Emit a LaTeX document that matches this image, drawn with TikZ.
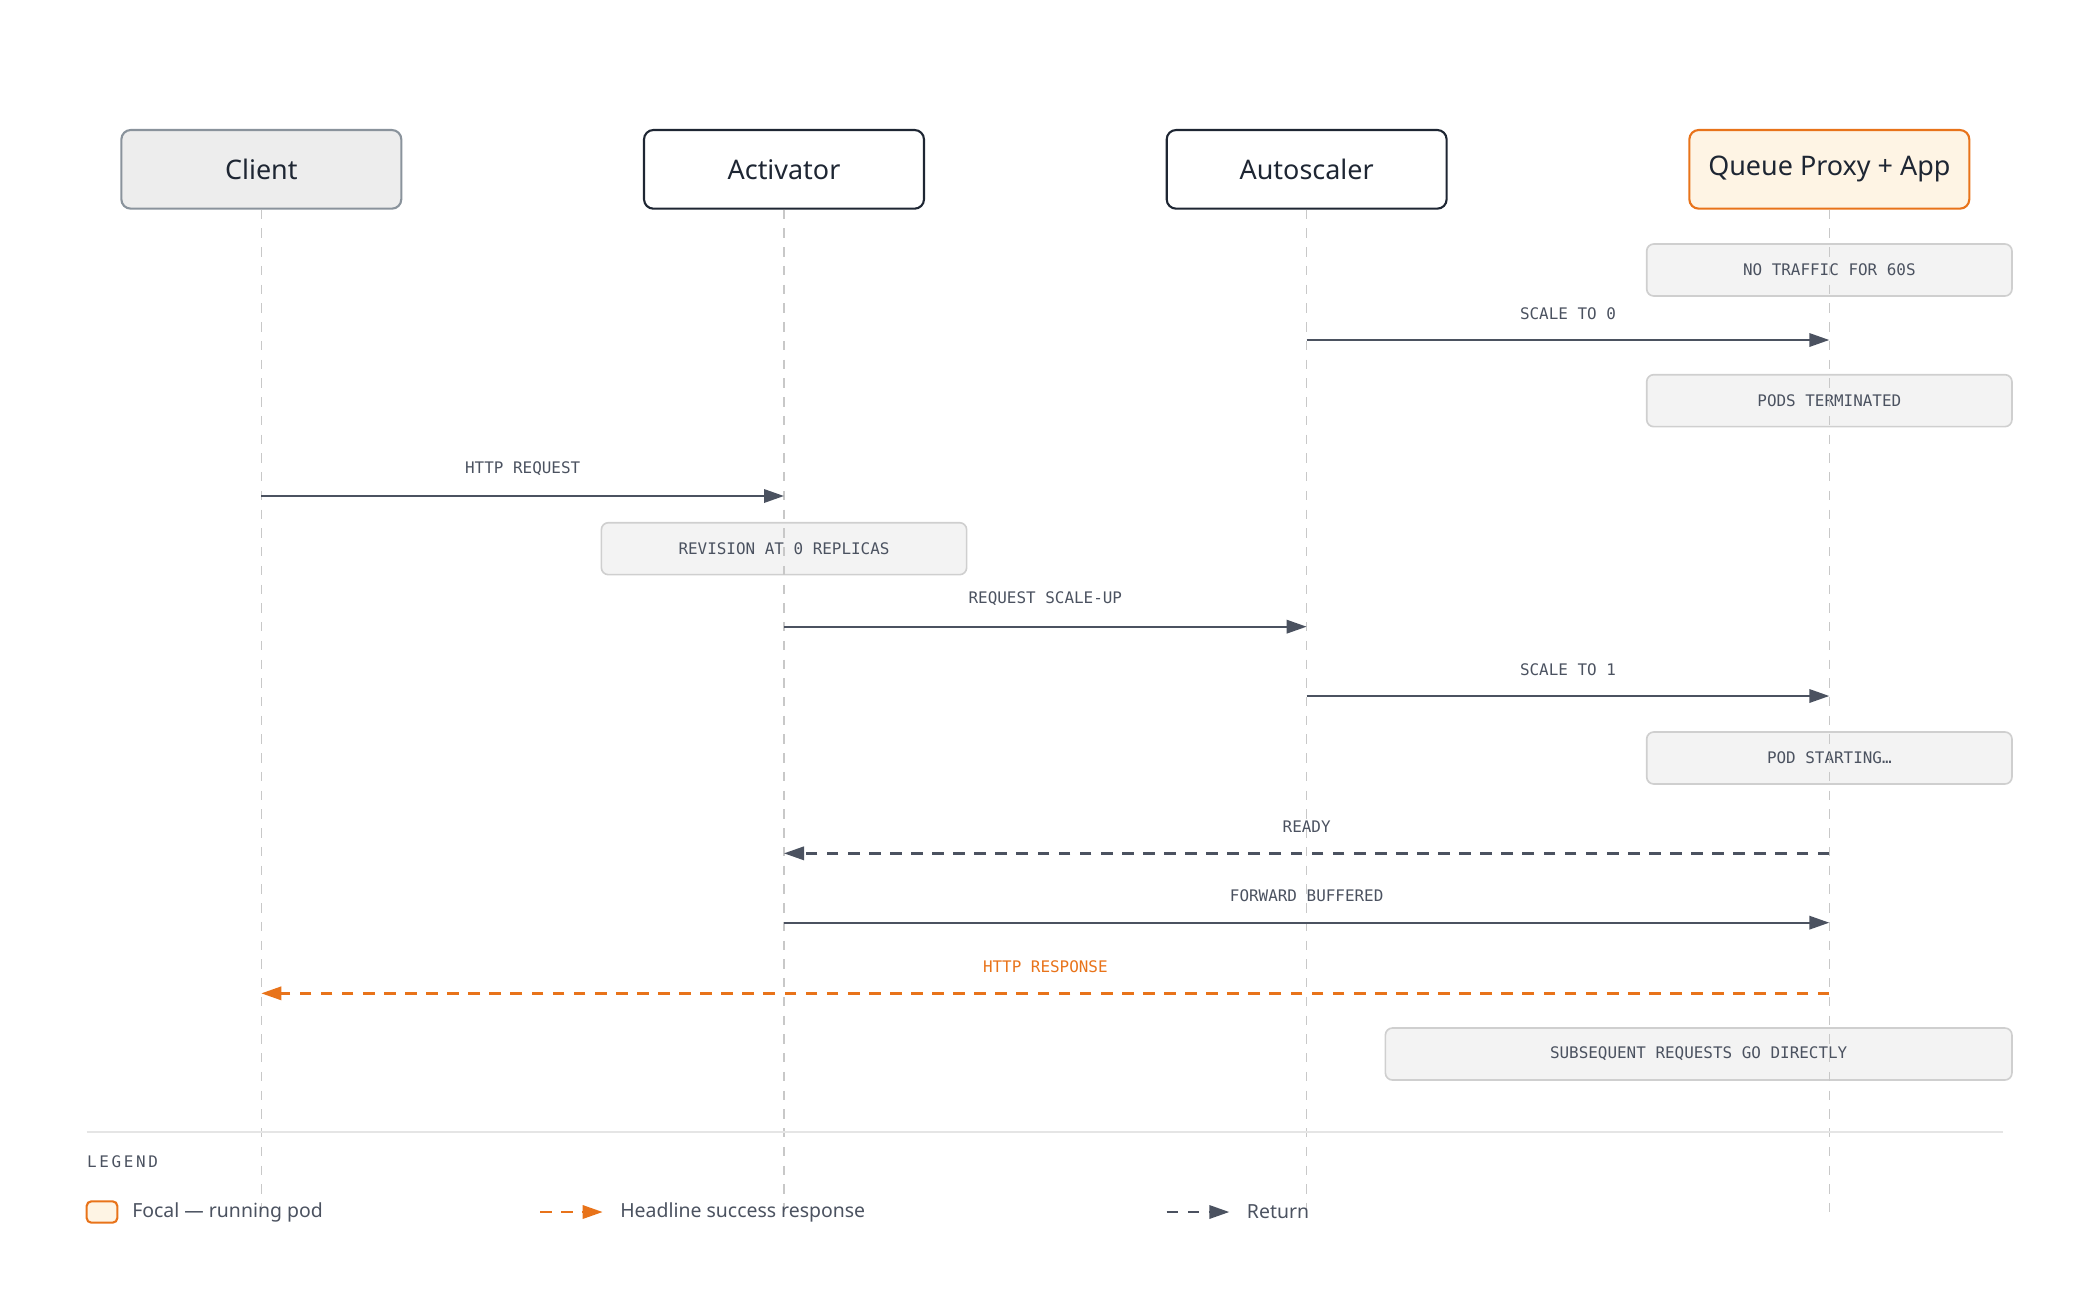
\documentclass[tikz,border=0pt]{standalone}
\usepackage{fontspec}
\setmainfont{Noto Sans}
\newfontfamily\monofont{DejaVu Sans Mono}
\usetikzlibrary{arrows.meta}
\definecolor{ink}{HTML}{1E2633}
\definecolor{arrowgray}{HTML}{4B5260}
\definecolor{focal}{HTML}{E8731A}
\definecolor{focalfill}{HTML}{FEF4E4}
\definecolor{clientfill}{HTML}{EDEDED}
\definecolor{clientdraw}{HTML}{8A939C}
\definecolor{notefill}{HTML}{F3F3F3}
\definecolor{notedraw}{HTML}{CFCFCF}
\definecolor{lifegray}{HTML}{C8C8C8}

\begin{document}
\begin{tikzpicture}[x=0.02cm, y=-0.02cm]
    % Styles
    \tikzstyle{actor} = [rectangle, rounded corners=4pt, draw=ink, line width=0.9pt, minimum width=4.2cm, minimum height=1.18cm, font=\fontsize{11.5}{13}\selectfont\bfseries, text=ink]
    \tikzstyle{note} = [rectangle, rounded corners=3pt, draw=notedraw, line width=0.7pt, fill=notefill, minimum height=0.78cm, font=\monofont\fontsize{6.8}{8}\selectfont, text=arrowgray]
    \tikzstyle{msg} = [-{Triangle[length=0.3cm,width=0.2cm]}, arrowgray, line width=1pt]
    \tikzstyle{ret} = [msg, dash pattern=on 5pt off 4pt]
    \tikzstyle{mlabel} = [midway, above=5pt, font=\monofont\fontsize{6.8}{8}\selectfont, text=arrowgray]
    \tikzstyle{lifeline} = [lifegray, line width=0.7pt, dash pattern=on 4pt off 4pt]
    \tikzstyle{legendtext} = [anchor=west, font=\fontsize{8.3}{10}\selectfont, text=arrowgray]

    \useasboundingbox (0,0) rectangle (1560,975);

    % Actors
    \node[actor, fill=clientfill, draw=clientdraw] (client) at (196,127) {Client};
    \node[actor] (activator) at (588,127) {Activator};
    \node[actor] (autoscaler) at (980,127) {Autoscaler};
    \node[actor, fill=focalfill, draw=focal] (qp) at (1372,127) {Queue Proxy + App};

    % Notes
    \node[note, minimum width=5.48cm] (n1) at (1372,202.5) {NO TRAFFIC FOR 60S};
    \node[note, minimum width=5.48cm] (n2) at (1372,300.5) {PODS TERMINATED};
    \node[note, minimum width=5.48cm] (n3) at (588,411.5) {REVISION AT 0 REPLICAS};
    \node[note, minimum width=5.48cm] (n4) at (1372,568.5) {POD STARTING…};
    \node[note, minimum width=9.4cm] (n5) at (1274,790.5) {SUBSEQUENT REQUESTS GO DIRECTLY};

    % Lifelines
    \foreach \a in {client, activator, autoscaler, qp}
        \draw[lifeline] (\a.south) -- (\a.south |- 0,915);

    % Messages
    \draw[msg] (autoscaler |- 0,255) -- node[mlabel] {SCALE TO 0} (qp |- 0,255);
    \draw[msg] (client |- 0,372) -- node[mlabel] {HTTP REQUEST} (activator |- 0,372);
    \draw[msg] (activator |- 0,470) -- node[mlabel] {REQUEST SCALE-UP} (autoscaler |- 0,470);
    \draw[msg] (autoscaler |- 0,522) -- node[mlabel] {SCALE TO 1} (qp |- 0,522);
    \draw[ret] (qp |- 0,640) -- node[mlabel] {READY} (activator |- 0,640);
    \draw[msg] (activator |- 0,692) -- node[mlabel] {FORWARD BUFFERED} (qp |- 0,692);
    \draw[ret, focal] (qp |- 0,745) -- node[mlabel, text=focal] {HTTP RESPONSE} (client |- 0,745);

    % Legend
    \draw[black!10, line width=0.7pt] (65,849) -- (1502,849);
    \node[anchor=west, inner sep=0pt, font=\monofont\fontsize{6.8}{8}\selectfont, text=arrowgray] (legend) at (65,871) {L\,E\,G\,E\,N\,D};
    \draw[focal, fill=focalfill, line width=0.9pt, rounded corners=2pt] (65,901) rectangle (88,917);
    \node[legendtext] (lg1) at (93,909) {Focal — running pod};
    \coordinate (lo1) at (405,909);
    \coordinate (lo2) at (452,909);
    \draw[ret, focal] (lo1) -- (lo2);
    \node[legendtext] (lg2) at (459,909) {Headline success response};
    \coordinate (lr1) at (875,909);
    \coordinate (lr2) at (922,909);
    \draw[ret] (lr1) -- (lr2);
    \node[legendtext] (lg3) at (929,909) {Return};
\end{tikzpicture}
\end{document}
